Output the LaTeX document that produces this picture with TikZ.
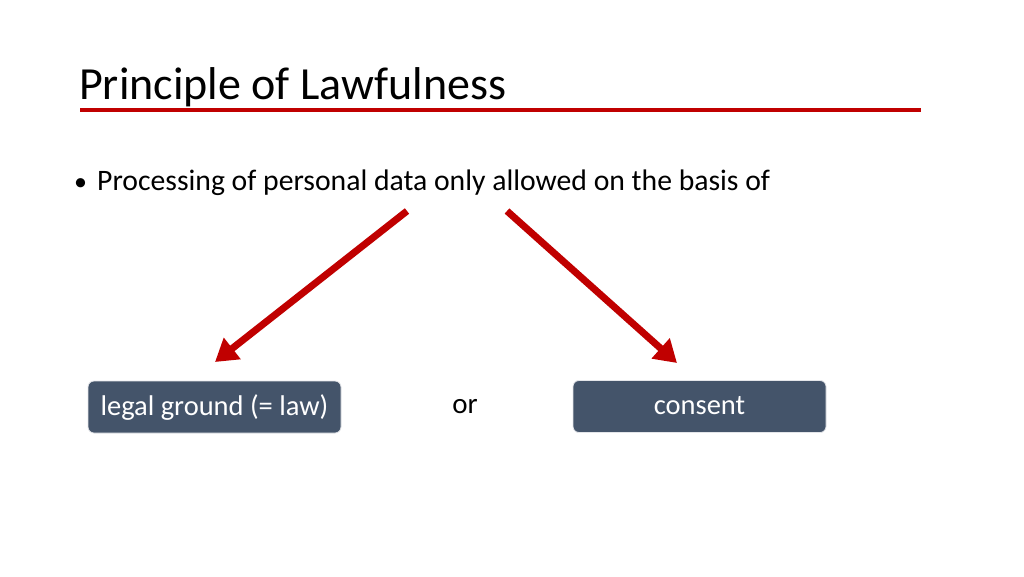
\documentclass[tikz,border=0pt]{standalone}
\usepackage{fontspec}
\setmainfont{Carlito}
\usetikzlibrary{arrows.meta}
\definecolor{accentred}{HTML}{C00000}
\definecolor{boxfill}{HTML}{44546A}
\tikzset{
  redarrow/.style={draw=accentred, line width=7pt, -{Triangle[length=22pt,width=26pt]}},
  darkbox/.style={draw=white!85!boxfill, line width=0.8pt, fill=boxfill, rounded corners=6pt,
    minimum width=253pt, minimum height=52pt, inner sep=0pt, text=white, text height=20pt, text depth=4pt,
    font=\fontsize{28.5}{32}\selectfont},
  bodytext/.style={inner sep=0pt, font=\fontsize{29}{34}\selectfont},
}
\begin{document}
\begin{tikzpicture}[x=1pt,y=-1pt]
\useasboundingbox (0,0) rectangle (1024,576);
\fill[white] (0,0) rectangle (1024,576);
\node[anchor=base west, inner sep=0pt, font=\fontsize{46}{50}\selectfont] (title) at (79,99) {Principle of Lawfulness};
\coordinate (ruleL) at (80,109.5);
\coordinate (ruleR) at (921,109.5);
\draw[accentred, line width=4pt] (ruleL) -- (ruleR);
\node[bodytext, anchor=base west, font=\fontsize{26}{30}\selectfont] (bullet) at (74,190) {•};
\node[bodytext, anchor=base west, font=\fontsize{29.7}{34}\selectfont] (text) at (97,190) {Processing of personal data only allowed on the basis of};
\node[darkbox] (law) at (214.5,407) {legal ground (= law)};
\node[darkbox] (consent) at (699.5,406.5) {consent};
\node[bodytext, anchor=base] (or) at (465,413) {or};
\coordinate (s1) at (407,211);
\coordinate (t1) at (215,362);
\coordinate (s2) at (507,211);
\coordinate (t2) at (677,363);
\draw[redarrow] (s1) -- (t1);
\draw[redarrow] (s2) -- (t2);
\end{tikzpicture}
\end{document}
